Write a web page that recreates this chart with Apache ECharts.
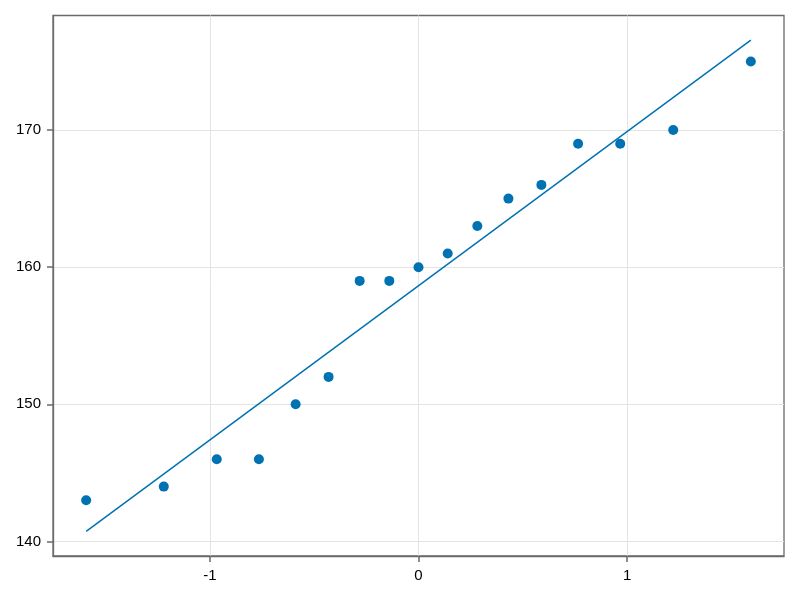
<!DOCTYPE html>
<html>
<head>
<meta charset="utf-8">
<script src="https://cdn.jsdelivr.net/npm/echarts@6/dist/echarts.min.js"></script>
<style>html,body{margin:0;padding:0;background:#fff}#c{width:800px;height:600px}</style>
</head>
<body>
<div id="c"></div>
<script>
// Theoretical normal quantiles (x) and sample values (y)
const quantiles = [-1.593, -1.221, -0.967, -0.765, -0.589, -0.431, -0.282, -0.140, 0.000, 0.140, 0.282, 0.431, 0.589, 0.765, 0.967, 1.221, 1.593];
const sampleValues = [143, 144, 146, 146, 150, 152, 159, 159, 160, 161, 163, 165, 166, 169, 169, 170, 175];
// Fitted reference line endpoints
const lineX = [-1.593, 1.593];
const lineY = [140.73, 176.56];
const xTicks = [-1, 0, 1];
const yTicks = [140, 150, 160, 170];

const color = '#0072B2';
const frame = '#6a6a6a';
const chart = echarts.init(document.getElementById('c'), null, {renderer: 'canvas'});
const labelFont = {color: '#000', fontSize: 15, fontFamily: 'Liberation Sans, Arial, sans-serif'};
chart.setOption({
  animation: false,
  backgroundColor: '#fff',
  grid: {left: 53, right: 16, top: 15.5, bottom: 44, show: true, borderColor: frame, borderWidth: 1.3, backgroundColor: 'transparent'},
  xAxis: {
    type: 'value', min: -1.752, max: 1.752,
    axisLine: {show: true, onZero: false, lineStyle: {color: frame, width: 1.3}},
    axisTick: {show: true, inside: false, length: 6, lineStyle: {color: frame, width: 1.5}, customValues: xTicks},
    axisLabel: Object.assign({margin: 12, customValues: xTicks}, labelFont),
    splitLine: {show: true, lineStyle: {color: '#e3e3e3', width: 1}}
  },
  yAxis: {
    type: 'value', min: 138.94, max: 178.35,
    axisLine: {show: true, onZero: false, lineStyle: {color: frame, width: 1.3}},
    axisTick: {show: true, inside: false, length: 6, lineStyle: {color: frame, width: 1.5}, customValues: yTicks},
    axisLabel: Object.assign({margin: 12, customValues: yTicks}, labelFont),
    splitLine: {show: true, lineStyle: {color: '#e3e3e3', width: 1}}
  },
  series: [
    {
      type: 'scatter',
      data: quantiles.map((x, i) => [x, sampleValues[i]]),
      symbol: 'circle', symbolSize: 10,
      itemStyle: {color: color, opacity: 1},
      z: 3
    },
    {
      type: 'line',
      data: lineX.map((x, i) => [x, lineY[i]]),
      showSymbol: false, symbol: 'none',
      lineStyle: {color: color, width: 1.5},
      z: 2
    }
  ]
});
</script>
</body>
</html>
